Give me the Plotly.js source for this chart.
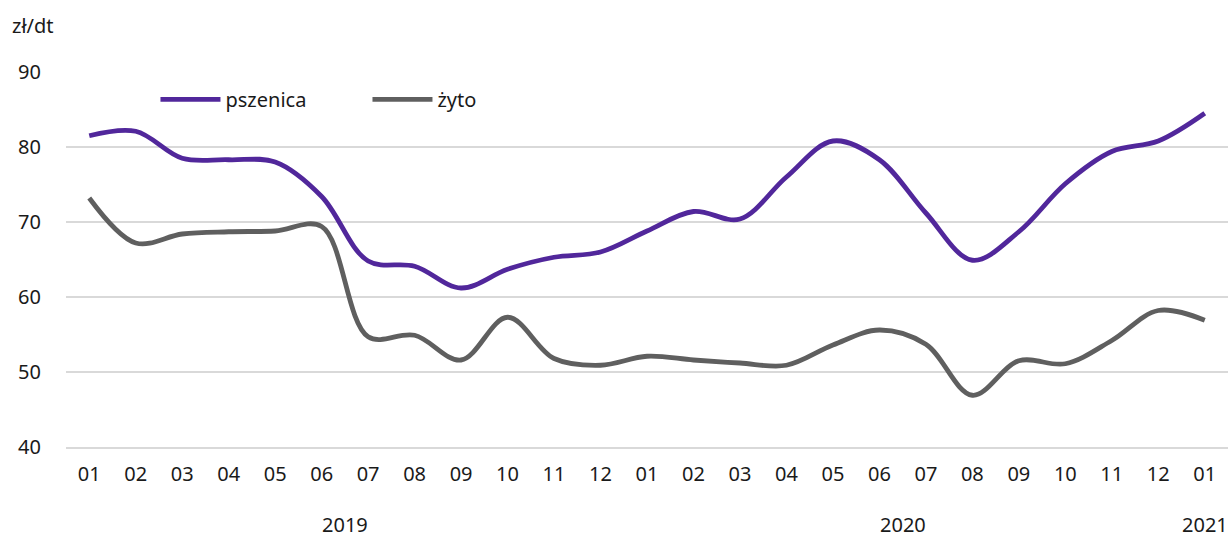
<!DOCTYPE html>
<html>
<head>
<meta charset="utf-8">
<script src="https://cdn.plot.ly/plotly-3.0.1.min.js"></script>
<style>
  html, body { margin: 0; padding: 0; background: #fff; }
  #chart { width: 1228px; height: 539px; }
</style>
</head>
<body>
<div id="chart"></div>
<script>
// months 2019-01 .. 2021-01
const months = ["2019-01","2019-02","2019-03","2019-04","2019-05","2019-06","2019-07","2019-08","2019-09","2019-10","2019-11","2019-12",
                "2020-01","2020-02","2020-03","2020-04","2020-05","2020-06","2020-07","2020-08","2020-09","2020-10","2020-11","2020-12",
                "2021-01"];
const monthLabels = ["01","02","03","04","05","06","07","08","09","10","11","12",
                     "01","02","03","04","05","06","07","08","09","10","11","12","01"];
const pszenica = [81.5, 82.1, 78.5, 78.3, 78.0, 73.4, 64.8, 64.1, 61.2, 63.7, 65.3, 66.0,
                  68.8, 71.4, 70.4, 76.0, 80.8, 78.3, 71.2, 64.9, 68.7, 75.1, 79.4, 80.8, 84.5];
const zyto = [73.2, 67.2, 68.4, 68.7, 68.8, 69.4, 54.7, 54.9, 51.6, 57.3, 51.8, 50.9,
              52.1, 51.6, 51.2, 50.9, 53.6, 55.6, 53.7, 46.9, 51.5, 51.1, 54.2, 58.2, 56.9];
const years = ["2019", "2020", "2021"];
const yearPos = [5.5, 17.5, 24];

const font = "Noto Sans, Open Sans, sans-serif";

const traces = [
  {
    x: months, y: pszenica, name: "pszenica", type: "scatter", mode: "lines",
    line: { color: "#51279b", width: 4.8, shape: "spline", smoothing: 1 }
  },
  {
    x: months, y: zyto, name: "żyto", type: "scatter", mode: "lines",
    line: { color: "#5f5f5f", width: 4.8, shape: "spline", smoothing: 1 }
  }
];

const layout = {
  width: 1228, height: 539,
  margin: { l: 66, r: 0, t: 72, b: 92 },
  paper_bgcolor: "#fff", plot_bgcolor: "#fff",
  font: { family: font, size: 20, color: "#1a1a1a" },
  showlegend: true,
  legend: {
    orientation: "h", x: 0.077, y: 0.927, xanchor: "left", yanchor: "middle",
    itemwidth: 60, entrywidth: 137, font: { size: 20 }, bgcolor: "rgba(0,0,0,0)"
  },
  xaxis: {
    type: "category", range: [-0.5, 24.5],
    tickvals: months, ticktext: monthLabels,
    showgrid: false, zeroline: false, ticks: "",
    showline: true, linecolor: "#d9d9d9", linewidth: 1.5,
    ticklabelstandoff: 8, fixedrange: true
  },
  yaxis: {
    range: [40, 90], tickvals: [40, 50, 60, 70, 80, 90],
    showgrid: true, gridcolor: "#d9d9d9", gridwidth: 1.5,
    showline: false, zeroline: false, ticks: "",
    ticklabelstandoff: 24, fixedrange: true
  },
  annotations: [
    { text: "zł/dt", xref: "paper", yref: "paper", x: -0.048, y: 1.125,
      xanchor: "left", yanchor: "middle", showarrow: false, font: { size: 20 } }
  ].concat(years.map((t, i) => ({
    text: t, xref: "x", yref: "paper", x: yearPos[i], y: -0.206,
    xanchor: "center", yanchor: "middle", showarrow: false, font: { size: 20 }
  })))
};

Plotly.newPlot("chart", traces, layout, { displayModeBar: false, staticPlot: true });
</script>
</body>
</html>
